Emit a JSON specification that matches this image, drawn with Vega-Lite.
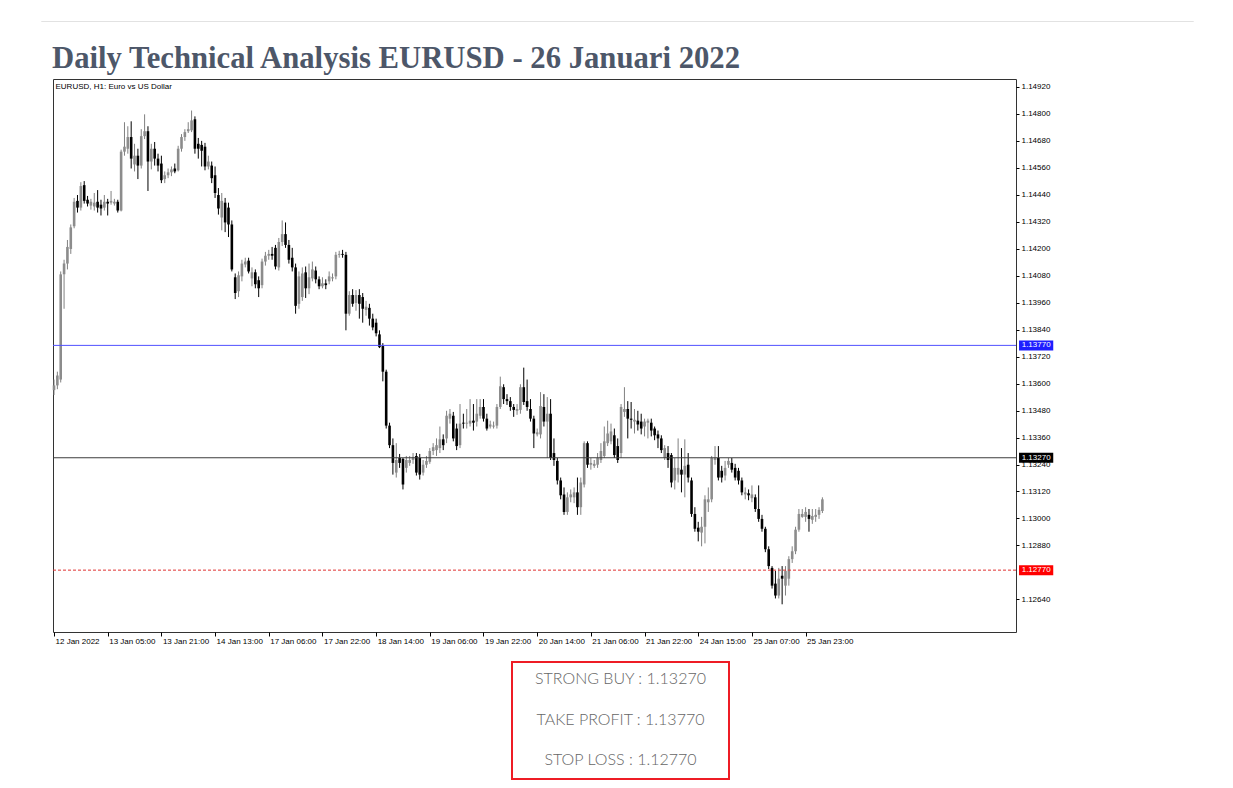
{
  "$schema": "https://vega.github.io/schema/vega-lite/v6.json",
  "background": "#ffffff",
  "padding": {"left": 40, "top": 20, "right": 0, "bottom": 0},
  "datasets": {
    "levels": [
      {"name": "STRONG BUY", "price": 1.1327},
      {"name": "TAKE PROFIT", "price": 1.1377},
      {"name": "STOP LOSS", "price": 1.1277}
    ],
    "candles": [
{"i":0,"o":1.13571,"h":1.13618,"l":1.13549,"c":1.13592},
{"i":1,"o":1.13592,"h":1.13653,"l":1.13575,"c":1.13636},
{"i":2,"o":1.13618,"h":1.14099,"l":1.13605,"c":1.14086},
{"i":3,"o":1.14086,"h":1.14151,"l":1.13933,"c":1.14134},
{"i":4,"o":1.14134,"h":1.14239,"l":1.14108,"c":1.14208},
{"i":5,"o":1.14199,"h":1.14308,"l":1.14177,"c":1.14295},
{"i":6,"o":1.14300,"h":1.14426,"l":1.14291,"c":1.14409},
{"i":7,"o":1.14413,"h":1.14439,"l":1.14361,"c":1.14383},
{"i":8,"o":1.14383,"h":1.14496,"l":1.14370,"c":1.14479},
{"i":9,"o":1.14483,"h":1.14501,"l":1.14401,"c":1.14413},
{"i":10,"o":1.14418,"h":1.14435,"l":1.14388,"c":1.14401},
{"i":11,"o":1.14392,"h":1.14422,"l":1.14374,"c":1.14409},
{"i":12,"o":1.14388,"h":1.14448,"l":1.14370,"c":1.14405},
{"i":13,"o":1.14409,"h":1.14461,"l":1.14361,"c":1.14383},
{"i":14,"o":1.14396,"h":1.14418,"l":1.14348,"c":1.14379},
{"i":15,"o":1.14383,"h":1.14439,"l":1.14370,"c":1.14409},
{"i":16,"o":1.14409,"h":1.14422,"l":1.14348,"c":1.14401},
{"i":17,"o":1.14405,"h":1.14457,"l":1.14396,"c":1.14413},
{"i":18,"o":1.14401,"h":1.14422,"l":1.14392,"c":1.14409},
{"i":19,"o":1.14409,"h":1.14418,"l":1.14361,"c":1.14370},
{"i":20,"o":1.14370,"h":1.14641,"l":1.14366,"c":1.14632},
{"i":21,"o":1.14632,"h":1.14763,"l":1.14614,"c":1.14654},
{"i":22,"o":1.14645,"h":1.14745,"l":1.14623,"c":1.14697},
{"i":23,"o":1.14697,"h":1.14767,"l":1.14557,"c":1.14601},
{"i":24,"o":1.14575,"h":1.14667,"l":1.14544,"c":1.14614},
{"i":25,"o":1.14614,"h":1.14645,"l":1.14510,"c":1.14570},
{"i":26,"o":1.14570,"h":1.14732,"l":1.14557,"c":1.14701},
{"i":27,"o":1.14701,"h":1.14798,"l":1.14688,"c":1.14723},
{"i":28,"o":1.14723,"h":1.14745,"l":1.14457,"c":1.14588},
{"i":29,"o":1.14588,"h":1.14667,"l":1.14553,"c":1.14645},
{"i":30,"o":1.14645,"h":1.14675,"l":1.14570,"c":1.14601},
{"i":31,"o":1.14601,"h":1.14623,"l":1.14544,"c":1.14570},
{"i":32,"o":1.14579,"h":1.14614,"l":1.14492,"c":1.14505},
{"i":33,"o":1.14510,"h":1.14544,"l":1.14492,"c":1.14527},
{"i":34,"o":1.14527,"h":1.14557,"l":1.14514,"c":1.14540},
{"i":35,"o":1.14540,"h":1.14566,"l":1.14523,"c":1.14553},
{"i":36,"o":1.14557,"h":1.14579,"l":1.14536,"c":1.14544},
{"i":37,"o":1.14549,"h":1.14658,"l":1.14544,"c":1.14645},
{"i":38,"o":1.14645,"h":1.14710,"l":1.14632,"c":1.14697},
{"i":39,"o":1.14697,"h":1.14732,"l":1.14680,"c":1.14719},
{"i":40,"o":1.14723,"h":1.14763,"l":1.14715,"c":1.14732},
{"i":41,"o":1.14727,"h":1.14815,"l":1.14719,"c":1.14771},
{"i":42,"o":1.14776,"h":1.14789,"l":1.14623,"c":1.14645},
{"i":43,"o":1.14667,"h":1.14693,"l":1.14601,"c":1.14645},
{"i":44,"o":1.14662,"h":1.14680,"l":1.14566,"c":1.14636},
{"i":45,"o":1.14654,"h":1.14671,"l":1.14549,"c":1.14566},
{"i":46,"o":1.14566,"h":1.14614,"l":1.14553,"c":1.14588},
{"i":47,"o":1.14570,"h":1.14588,"l":1.14492,"c":1.14514},
{"i":48,"o":1.14527,"h":1.14566,"l":1.14426,"c":1.14448},
{"i":49,"o":1.14439,"h":1.14470,"l":1.14352,"c":1.14379},
{"i":50,"o":1.14339,"h":1.14448,"l":1.14282,"c":1.14413},
{"i":51,"o":1.14405,"h":1.14426,"l":1.14274,"c":1.14317},
{"i":52,"o":1.14383,"h":1.14405,"l":1.14252,"c":1.14308},
{"i":53,"o":1.14308,"h":1.14326,"l":1.14099,"c":1.14108},
{"i":54,"o":1.14073,"h":1.14090,"l":1.13976,"c":1.14003},
{"i":55,"o":1.14011,"h":1.14099,"l":1.13985,"c":1.14082},
{"i":56,"o":1.14077,"h":1.14151,"l":1.14055,"c":1.14134},
{"i":57,"o":1.14130,"h":1.14160,"l":1.14117,"c":1.14143},
{"i":58,"o":1.14147,"h":1.14160,"l":1.14090,"c":1.14099},
{"i":59,"o":1.14068,"h":1.14117,"l":1.14033,"c":1.14095},
{"i":60,"o":1.14095,"h":1.14108,"l":1.14024,"c":1.14042},
{"i":61,"o":1.14060,"h":1.14077,"l":1.13985,"c":1.14024},
{"i":62,"o":1.14038,"h":1.14156,"l":1.14024,"c":1.14143},
{"i":63,"o":1.14143,"h":1.14186,"l":1.14125,"c":1.14169},
{"i":64,"o":1.14169,"h":1.14195,"l":1.14151,"c":1.14177},
{"i":65,"o":1.14177,"h":1.14208,"l":1.14151,"c":1.14169},
{"i":66,"o":1.14204,"h":1.14217,"l":1.14108,"c":1.14121},
{"i":67,"o":1.14117,"h":1.14248,"l":1.14103,"c":1.14230},
{"i":68,"o":1.14230,"h":1.14326,"l":1.14212,"c":1.14265},
{"i":69,"o":1.14265,"h":1.14317,"l":1.14204,"c":1.14217},
{"i":70,"o":1.14217,"h":1.14239,"l":1.14134,"c":1.14151},
{"i":71,"o":1.14160,"h":1.14204,"l":1.14099,"c":1.14117},
{"i":72,"o":1.14117,"h":1.14134,"l":1.13911,"c":1.13946},
{"i":73,"o":1.13955,"h":1.14099,"l":1.13933,"c":1.14077},
{"i":74,"o":1.13985,"h":1.14117,"l":1.13968,"c":1.14090},
{"i":75,"o":1.14095,"h":1.14121,"l":1.13981,"c":1.14024},
{"i":76,"o":1.14024,"h":1.14134,"l":1.13998,"c":1.14073},
{"i":77,"o":1.14068,"h":1.14143,"l":1.14055,"c":1.14108},
{"i":78,"o":1.14103,"h":1.14121,"l":1.14046,"c":1.14064},
{"i":79,"o":1.14064,"h":1.14077,"l":1.14020,"c":1.14033},
{"i":80,"o":1.14033,"h":1.14073,"l":1.14024,"c":1.14046},
{"i":81,"o":1.14046,"h":1.14064,"l":1.14020,"c":1.14038},
{"i":82,"o":1.14055,"h":1.14099,"l":1.14042,"c":1.14077},
{"i":83,"o":1.14068,"h":1.14090,"l":1.14055,"c":1.14073},
{"i":84,"o":1.14077,"h":1.14186,"l":1.14064,"c":1.14173},
{"i":85,"o":1.14173,"h":1.14191,"l":1.14160,"c":1.14177},
{"i":86,"o":1.14177,"h":1.14195,"l":1.14160,"c":1.14173},
{"i":87,"o":1.14173,"h":1.14186,"l":1.13837,"c":1.13911},
{"i":88,"o":1.13911,"h":1.14011,"l":1.13902,"c":1.13994},
{"i":89,"o":1.13994,"h":1.14020,"l":1.13942,"c":1.13955},
{"i":90,"o":1.13959,"h":1.14016,"l":1.13924,"c":1.13994},
{"i":91,"o":1.13994,"h":1.14020,"l":1.13889,"c":1.13955},
{"i":92,"o":1.13985,"h":1.14003,"l":1.13871,"c":1.13933},
{"i":93,"o":1.13928,"h":1.13968,"l":1.13902,"c":1.13942},
{"i":94,"o":1.13937,"h":1.13955,"l":1.13858,"c":1.13889},
{"i":95,"o":1.13889,"h":1.13911,"l":1.13837,"c":1.13850},
{"i":96,"o":1.13871,"h":1.13889,"l":1.13810,"c":1.13824},
{"i":97,"o":1.13819,"h":1.13837,"l":1.13758,"c":1.13762},
{"i":98,"o":1.13767,"h":1.13780,"l":1.13610,"c":1.13653},
{"i":99,"o":1.13653,"h":1.13662,"l":1.13400,"c":1.13413},
{"i":100,"o":1.13413,"h":1.13426,"l":1.13313,"c":1.13326},
{"i":101,"o":1.13326,"h":1.13356,"l":1.13195,"c":1.13247},
{"i":102,"o":1.13204,"h":1.13335,"l":1.13182,"c":1.13260},
{"i":103,"o":1.13269,"h":1.13287,"l":1.13225,"c":1.13247},
{"i":104,"o":1.13265,"h":1.13269,"l":1.13129,"c":1.13151},
{"i":105,"o":1.13225,"h":1.13278,"l":1.13204,"c":1.13260},
{"i":106,"o":1.13247,"h":1.13278,"l":1.13234,"c":1.13260},
{"i":107,"o":1.13260,"h":1.13291,"l":1.13243,"c":1.13274},
{"i":108,"o":1.13278,"h":1.13291,"l":1.13191,"c":1.13204},
{"i":109,"o":1.13269,"h":1.13287,"l":1.13173,"c":1.13195},
{"i":110,"o":1.13204,"h":1.13260,"l":1.13191,"c":1.13239},
{"i":111,"o":1.13239,"h":1.13278,"l":1.13225,"c":1.13256},
{"i":112,"o":1.13252,"h":1.13313,"l":1.13243,"c":1.13300},
{"i":113,"o":1.13300,"h":1.13335,"l":1.13282,"c":1.13317},
{"i":114,"o":1.13304,"h":1.13356,"l":1.13278,"c":1.13326},
{"i":115,"o":1.13313,"h":1.13409,"l":1.13291,"c":1.13352},
{"i":116,"o":1.13352,"h":1.13374,"l":1.13304,"c":1.13326},
{"i":117,"o":1.13356,"h":1.13479,"l":1.13335,"c":1.13457},
{"i":118,"o":1.13444,"h":1.13487,"l":1.13422,"c":1.13466},
{"i":119,"o":1.13457,"h":1.13474,"l":1.13343,"c":1.13356},
{"i":120,"o":1.13400,"h":1.13422,"l":1.13304,"c":1.13322},
{"i":121,"o":1.13326,"h":1.13509,"l":1.13313,"c":1.13422},
{"i":122,"o":1.13426,"h":1.13466,"l":1.13400,"c":1.13422},
{"i":123,"o":1.13422,"h":1.13487,"l":1.13400,"c":1.13426},
{"i":124,"o":1.13422,"h":1.13531,"l":1.13409,"c":1.13435},
{"i":125,"o":1.13435,"h":1.13509,"l":1.13391,"c":1.13426},
{"i":126,"o":1.13431,"h":1.13531,"l":1.13409,"c":1.13466},
{"i":127,"o":1.13457,"h":1.13531,"l":1.13444,"c":1.13496},
{"i":128,"o":1.13496,"h":1.13531,"l":1.13431,"c":1.13444},
{"i":129,"o":1.13444,"h":1.13466,"l":1.13391,"c":1.13400},
{"i":130,"o":1.13409,"h":1.13435,"l":1.13400,"c":1.13418},
{"i":131,"o":1.13409,"h":1.13431,"l":1.13400,"c":1.13413},
{"i":132,"o":1.13413,"h":1.13509,"l":1.13400,"c":1.13496},
{"i":133,"o":1.13496,"h":1.13631,"l":1.13487,"c":1.13588},
{"i":134,"o":1.13584,"h":1.13597,"l":1.13509,"c":1.13531},
{"i":135,"o":1.13531,"h":1.13553,"l":1.13505,"c":1.13522},
{"i":136,"o":1.13522,"h":1.13540,"l":1.13479,"c":1.13496},
{"i":137,"o":1.13496,"h":1.13509,"l":1.13452,"c":1.13483},
{"i":138,"o":1.13479,"h":1.13509,"l":1.13461,"c":1.13487},
{"i":139,"o":1.13483,"h":1.13597,"l":1.13466,"c":1.13584},
{"i":140,"o":1.13584,"h":1.13671,"l":1.13505,"c":1.13518},
{"i":141,"o":1.13522,"h":1.13618,"l":1.13479,"c":1.13496},
{"i":142,"o":1.13487,"h":1.13531,"l":1.13431,"c":1.13444},
{"i":143,"o":1.13444,"h":1.13457,"l":1.13313,"c":1.13378},
{"i":144,"o":1.13374,"h":1.13400,"l":1.13365,"c":1.13383},
{"i":145,"o":1.13374,"h":1.13562,"l":1.13356,"c":1.13500},
{"i":146,"o":1.13496,"h":1.13553,"l":1.13409,"c":1.13431},
{"i":147,"o":1.13431,"h":1.13540,"l":1.13269,"c":1.13466},
{"i":148,"o":1.13466,"h":1.13531,"l":1.13260,"c":1.13269},
{"i":149,"o":1.13291,"h":1.13356,"l":1.13234,"c":1.13260},
{"i":150,"o":1.13256,"h":1.13269,"l":1.13151,"c":1.13169},
{"i":151,"o":1.13169,"h":1.13182,"l":1.13085,"c":1.13103},
{"i":152,"o":1.13107,"h":1.13138,"l":1.13016,"c":1.13029},
{"i":153,"o":1.13029,"h":1.13116,"l":1.13016,"c":1.13094},
{"i":154,"o":1.13094,"h":1.13129,"l":1.13072,"c":1.13107},
{"i":155,"o":1.13094,"h":1.13138,"l":1.13068,"c":1.13116},
{"i":156,"o":1.13116,"h":1.13182,"l":1.13016,"c":1.13050},
{"i":157,"o":1.13050,"h":1.13182,"l":1.13016,"c":1.13160},
{"i":158,"o":1.13151,"h":1.13343,"l":1.13138,"c":1.13335},
{"i":159,"o":1.13335,"h":1.13343,"l":1.13225,"c":1.13239},
{"i":160,"o":1.13239,"h":1.13269,"l":1.13217,"c":1.13247},
{"i":161,"o":1.13234,"h":1.13260,"l":1.13225,"c":1.13243},
{"i":162,"o":1.13239,"h":1.13291,"l":1.13225,"c":1.13269},
{"i":163,"o":1.13260,"h":1.13335,"l":1.13247,"c":1.13300},
{"i":164,"o":1.13278,"h":1.13409,"l":1.13269,"c":1.13343},
{"i":165,"o":1.13335,"h":1.13435,"l":1.13322,"c":1.13378},
{"i":166,"o":1.13343,"h":1.13422,"l":1.13330,"c":1.13387},
{"i":167,"o":1.13370,"h":1.13400,"l":1.13269,"c":1.13282},
{"i":168,"o":1.13322,"h":1.13356,"l":1.13247,"c":1.13260},
{"i":169,"o":1.13291,"h":1.13509,"l":1.13269,"c":1.13496},
{"i":170,"o":1.13474,"h":1.13584,"l":1.13452,"c":1.13487},
{"i":171,"o":1.13487,"h":1.13522,"l":1.13356,"c":1.13444},
{"i":172,"o":1.13444,"h":1.13518,"l":1.13400,"c":1.13439},
{"i":173,"o":1.13431,"h":1.13487,"l":1.13378,"c":1.13439},
{"i":174,"o":1.13435,"h":1.13479,"l":1.13391,"c":1.13418},
{"i":175,"o":1.13431,"h":1.13466,"l":1.13374,"c":1.13400},
{"i":176,"o":1.13409,"h":1.13444,"l":1.13365,"c":1.13431},
{"i":177,"o":1.13426,"h":1.13444,"l":1.13356,"c":1.13435},
{"i":178,"o":1.13426,"h":1.13444,"l":1.13365,"c":1.13391},
{"i":179,"o":1.13400,"h":1.13409,"l":1.13348,"c":1.13370},
{"i":180,"o":1.13374,"h":1.13391,"l":1.13313,"c":1.13356},
{"i":181,"o":1.13356,"h":1.13370,"l":1.13291,"c":1.13304},
{"i":182,"o":1.13269,"h":1.13326,"l":1.13260,"c":1.13313},
{"i":183,"o":1.13291,"h":1.13322,"l":1.13225,"c":1.13260},
{"i":184,"o":1.13282,"h":1.13291,"l":1.13138,"c":1.13160},
{"i":185,"o":1.13169,"h":1.13269,"l":1.13129,"c":1.13225},
{"i":186,"o":1.13195,"h":1.13356,"l":1.13160,"c":1.13225},
{"i":187,"o":1.13217,"h":1.13313,"l":1.13116,"c":1.13195},
{"i":188,"o":1.13195,"h":1.13352,"l":1.13094,"c":1.13234},
{"i":189,"o":1.13239,"h":1.13291,"l":1.13160,"c":1.13182},
{"i":190,"o":1.13169,"h":1.13182,"l":1.13007,"c":1.13020},
{"i":191,"o":1.13020,"h":1.13050,"l":1.12941,"c":1.12954},
{"i":192,"o":1.12959,"h":1.12985,"l":1.12898,"c":1.12941},
{"i":193,"o":1.12937,"h":1.13007,"l":1.12876,"c":1.12963},
{"i":194,"o":1.12963,"h":1.13103,"l":1.12889,"c":1.13085},
{"i":195,"o":1.13072,"h":1.13138,"l":1.13029,"c":1.13085},
{"i":196,"o":1.13085,"h":1.13278,"l":1.13072,"c":1.13269},
{"i":197,"o":1.13260,"h":1.13322,"l":1.13239,"c":1.13269},
{"i":198,"o":1.13269,"h":1.13322,"l":1.13169,"c":1.13182},
{"i":199,"o":1.13212,"h":1.13234,"l":1.13160,"c":1.13182},
{"i":200,"o":1.13191,"h":1.13256,"l":1.13169,"c":1.13225},
{"i":201,"o":1.13239,"h":1.13269,"l":1.13225,"c":1.13256},
{"i":202,"o":1.13247,"h":1.13269,"l":1.13204,"c":1.13217},
{"i":203,"o":1.13225,"h":1.13243,"l":1.13169,"c":1.13182},
{"i":204,"o":1.13212,"h":1.13225,"l":1.13151,"c":1.13169},
{"i":205,"o":1.13169,"h":1.13182,"l":1.13103,"c":1.13116},
{"i":206,"o":1.13107,"h":1.13138,"l":1.13085,"c":1.13116},
{"i":207,"o":1.13112,"h":1.13129,"l":1.13081,"c":1.13103},
{"i":208,"o":1.13090,"h":1.13147,"l":1.13072,"c":1.13107},
{"i":209,"o":1.13094,"h":1.13107,"l":1.13029,"c":1.13042},
{"i":210,"o":1.13042,"h":1.13147,"l":1.12985,"c":1.12998},
{"i":211,"o":1.12998,"h":1.13016,"l":1.12941,"c":1.12954},
{"i":212,"o":1.12954,"h":1.12963,"l":1.12850,"c":1.12863},
{"i":213,"o":1.12863,"h":1.12876,"l":1.12775,"c":1.12788},
{"i":214,"o":1.12780,"h":1.12788,"l":1.12688,"c":1.12701},
{"i":215,"o":1.12710,"h":1.12767,"l":1.12644,"c":1.12657},
{"i":216,"o":1.12657,"h":1.12780,"l":1.12644,"c":1.12732},
{"i":217,"o":1.12745,"h":1.12788,"l":1.12618,"c":1.12732},
{"i":218,"o":1.12701,"h":1.12788,"l":1.12657,"c":1.12767},
{"i":219,"o":1.12732,"h":1.12832,"l":1.12701,"c":1.12819},
{"i":220,"o":1.12819,"h":1.12876,"l":1.12802,"c":1.12854},
{"i":221,"o":1.12854,"h":1.12963,"l":1.12841,"c":1.12950},
{"i":222,"o":1.12950,"h":1.13042,"l":1.12941,"c":1.13020},
{"i":223,"o":1.13007,"h":1.13042,"l":1.13003,"c":1.13020},
{"i":224,"o":1.13007,"h":1.13050,"l":1.12985,"c":1.13029},
{"i":225,"o":1.13016,"h":1.13042,"l":1.12941,"c":1.12998},
{"i":226,"o":1.12994,"h":1.13042,"l":1.12976,"c":1.13011},
{"i":227,"o":1.13007,"h":1.13042,"l":1.12985,"c":1.13016},
{"i":228,"o":1.13016,"h":1.13050,"l":1.12998,"c":1.13038},
{"i":229,"o":1.13033,"h":1.13094,"l":1.13024,"c":1.13085}
    ]
  },
  "spacing": 20,
  "vconcat": [
    {
      "width": 1152,
      "height": 0.01,
      "view": {"stroke": "#e2e2e2", "strokeWidth": 1},
      "data": {"values": []},
      "mark": {"type": "text"},
      "encoding": {"text": {"value": ""}}
    },
    {
      "spacing": 0,
      "hconcat": [
        {
          "width": 11,
          "height": 1,
          "data": {"values": []},
          "mark": {"type": "text"},
          "encoding": {"text": {"value": ""}}
        },
        {
          "title": {"text": "Daily Technical Analysis EURUSD - 26 Januari 2022", "anchor": "start", "font": "Liberation Serif", "fontSize": 30.7, "fontWeight": "bold", "color": "#4d5769", "offset": 4},
          "spacing": 15,
          "vconcat": [
            {
              "width": 963,
              "height": 553,
              "view": {"stroke": "#333333", "strokeWidth": 1},
              "title": {"text": "EURUSD, H1:  Euro vs US Dollar", "anchor": "start", "orient": "top", "offset": -12, "dx": 3, "font": "Liberation Sans", "fontSize": 8, "fontWeight": "normal", "color": "#000000"},
              "data": {"name": "candles"},
              "layer": [
                {
                  "mark": {"type": "rule", "strokeWidth": 1},
                  "encoding": {
                    "x": {"field": "i", "type": "quantitative",
                      "scale": {"domain": [-0.3, 286.7], "nice": false, "zero": false, "padding": 0},
                      "axis": {"orient": "bottom", "title": null, "domain": false, "grid": false, "zindex": 0,
                        "values": [0,16,32,48,64,80,96,112,128,144,160,176,192,208,224],
                        "labelExpr": "['12 Jan 2022','13 Jan 05:00','13 Jan 21:00','14 Jan 13:00','17 Jan 06:00','17 Jan 22:00','18 Jan 14:00','19 Jan 06:00','19 Jan 22:00','20 Jan 14:00','21 Jan 06:00','21 Jan 22:00','24 Jan 15:00','25 Jan 07:00','25 Jan 23:00'][round(datum.value / 16)]",
                        "tickSize": 4, "tickColor": "#000000", "labelAlign": "left", "labelPadding": 1, "labelOffset": 1,
                        "labelFont": "Liberation Sans", "labelFontSize": 8, "labelColor": "#000000",
                        "labelFlush": false, "labelOverlap": false, "labelBound": false}},
                    "y": {"field": "l", "type": "quantitative",
                      "scale": {"domain": [1.12517, 1.14933], "nice": false, "zero": false},
                      "axis": {"orient": "right", "title": null, "domain": false, "grid": false, "zindex": 0,
                        "values": [1.1264,1.1288,1.13,1.1312,1.1324,1.1336,1.1348,1.136,1.1372,1.1384,1.1396,1.1408,1.142,1.1432,1.1444,1.1456,1.1468,1.148,1.1492],
                        "format": ".5f", "tickSize": 3, "tickColor": "#000000", "labelPadding": 2,
                        "labelFont": "Liberation Sans", "labelFontSize": 8, "labelColor": "#000000", "labelOverlap": false, "labelBound": false}},
                    "y2": {"field": "h"},
                    "color": {"condition": {"test": "datum.c >= datum.o", "value": "#808080"}, "value": "#000000"}
                  }
                },
                {
                  "mark": {"type": "bar", "width": 2.6},
                  "encoding": {
                    "x": {"field": "i", "type": "quantitative"},
                    "y": {"field": "o", "type": "quantitative",
                      "axis": {"orient": "right", "title": null, "domain": false, "grid": false, "zindex": 0,
                        "values": [1.1264,1.1288,1.13,1.1312,1.1324,1.1336,1.1348,1.136,1.1372,1.1384,1.1396,1.1408,1.142,1.1432,1.1444,1.1456,1.1468,1.148,1.1492],
                        "format": ".5f", "tickSize": 3, "tickColor": "#000000", "labelPadding": 2,
                        "labelFont": "Liberation Sans", "labelFontSize": 8, "labelColor": "#000000", "labelOverlap": false, "labelBound": false}},
                    "y2": {"field": "c"},
                    "color": {"condition": {"test": "datum.c >= datum.o", "value": "#8c8c8c"}, "value": "#000000"}
                  }
                },
                {
                  "data": {"name": "levels"},
                  "mark": {"type": "rule", "strokeWidth": 1},
                  "encoding": {
                    "y": {"field": "price", "type": "quantitative",
                      "axis": {"orient": "right", "title": null, "domain": false, "grid": false, "zindex": 0,
                        "values": [1.1264,1.1288,1.13,1.1312,1.1324,1.1336,1.1348,1.136,1.1372,1.1384,1.1396,1.1408,1.142,1.1432,1.1444,1.1456,1.1468,1.148,1.1492],
                        "format": ".5f", "tickSize": 3, "tickColor": "#000000", "labelPadding": 2,
                        "labelFont": "Liberation Sans", "labelFontSize": 8, "labelColor": "#000000", "labelOverlap": false, "labelBound": false}},
                    "stroke": {"field": "name", "type": "nominal", "legend": null,
                      "scale": {"domain": ["TAKE PROFIT", "STRONG BUY", "STOP LOSS"], "range": ["#5050ff", "#3c3c3c", "#e03030"]}},
                    "strokeDash": {"field": "name", "type": "nominal", "legend": null,
                      "scale": {"domain": ["TAKE PROFIT", "STRONG BUY", "STOP LOSS"], "range": [[1, 0], [1, 0], [3, 2]]}}
                  }
                },
                {
                  "data": {"name": "levels"},
                  "mark": {"type": "bar", "orient": "horizontal", "height": 10},
                  "encoding": {
                    "x": {"datum": 287.6, "type": "quantitative"},
                    "x2": {"datum": 297.8},
                    "y": {"field": "price", "type": "quantitative",
                      "axis": {"orient": "right", "title": null, "domain": false, "grid": false, "zindex": 0,
                        "values": [1.1264,1.1288,1.13,1.1312,1.1324,1.1336,1.1348,1.136,1.1372,1.1384,1.1396,1.1408,1.142,1.1432,1.1444,1.1456,1.1468,1.148,1.1492],
                        "format": ".5f", "tickSize": 3, "tickColor": "#000000", "labelPadding": 2,
                        "labelFont": "Liberation Sans", "labelFontSize": 8, "labelColor": "#000000", "labelOverlap": false, "labelBound": false}},
                    "fill": {"field": "name", "type": "nominal", "legend": null,
                      "scale": {"domain": ["TAKE PROFIT", "STRONG BUY", "STOP LOSS"], "range": ["#1e1eff", "#000000", "#ff0000"]}}
                  }
                },
                {
                  "data": {"name": "levels"},
                  "mark": {"type": "text", "font": "Liberation Sans", "fontSize": 8, "color": "#ffffff", "align": "center", "baseline": "middle"},
                  "encoding": {
                    "x": {"datum": 292.7, "type": "quantitative"},
                    "y": {"field": "price", "type": "quantitative",
                      "axis": {"orient": "right", "title": null, "domain": false, "grid": false, "zindex": 0,
                        "values": [1.1264,1.1288,1.13,1.1312,1.1324,1.1336,1.1348,1.136,1.1372,1.1384,1.1396,1.1408,1.142,1.1432,1.1444,1.1456,1.1468,1.148,1.1492],
                        "format": ".5f", "tickSize": 3, "tickColor": "#000000", "labelPadding": 2,
                        "labelFont": "Liberation Sans", "labelFontSize": 8, "labelColor": "#000000", "labelOverlap": false, "labelBound": false}},
                    "text": {"field": "price", "type": "quantitative", "format": ".5f"}
                  }
                }
              ]
            },
            {
              "spacing": 0,
              "hconcat": [
                {
                  "width": 458,
                  "height": 10,
                  "data": {"values": []},
                  "mark": {"type": "text"},
                  "encoding": {"text": {"value": ""}}
                },
                {
                  "width": 217,
                  "height": 117,
                  "view": {"stroke": "#ee1c25", "strokeWidth": 2},
                  "data": {"name": "levels"},
                  "transform": [{"calculate": "datum.name + ' : ' + format(datum.price, '.5f')", "as": "line"}],
                  "mark": {"type": "text", "font": "Lato", "fontSize": 16, "fontWeight": 300, "color": "#666666", "dy": -1},
                  "encoding": {
                    "y": {"field": "name", "type": "ordinal", "sort": ["STRONG BUY", "TAKE PROFIT", "STOP LOSS"], "axis": null,
                      "scale": {"type": "point", "padding": 0.46}},
                    "text": {"field": "line"}
                  }
                }
              ]
            }
          ]
        }
      ]
    }
  ],
  "config": {"view": {"stroke": null}, "axis": {"grid": false, "labelOverlap": false}, "axisY": {"labelOverlap": false}}
}
